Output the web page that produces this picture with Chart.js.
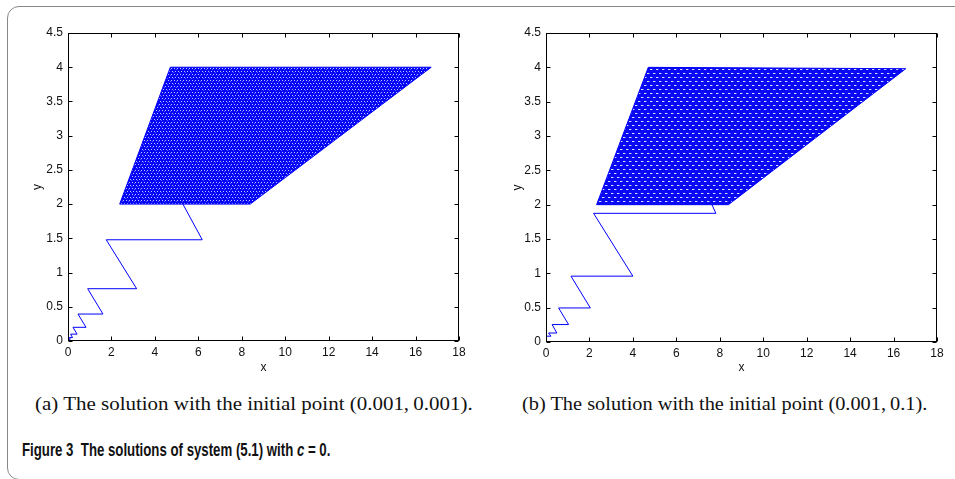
<!DOCTYPE html>
<html>
<head>
<meta charset="utf-8">
<script src="https://cdn.jsdelivr.net/npm/chart.js@4"></script>
<style>
  html, body { margin: 0; padding: 0; background: #fff; }
  body { width: 955px; height: 479px; position: relative; overflow: hidden; }
  .frame { position: absolute; left: 7px; top: 6px; width: 980px; height: 474px;
           border: 1.5px solid #888; border-radius: 12px; box-sizing: border-box; }
  canvas { position: absolute; }
  .sub { position: absolute; top: 394px; font-family: "Liberation Serif", serif; font-size: 18px; color: #111;
         white-space: nowrap; transform-origin: 0 50%; }
  .fig { position: absolute; left: 22px; top: 440px; font-family: "Liberation Sans", sans-serif;
         font-weight: bold; font-size: 18px; color: #111; white-space: nowrap;
         transform: scaleX(0.735); transform-origin: 0 50%; }
</style>
</head>
<body>
<div class="frame"></div>
<canvas id="chartA" width="450" height="360" style="left:20px;top:20px"></canvas>
<canvas id="chartB" width="450" height="360" style="left:500px;top:20px"></canvas>
<div class="sub" style="left:35px;transform:scaleX(1.165)">(a) The solution with the initial point (0.001,&thinsp;0.001).</div>
<div class="sub" style="left:522px;transform:scaleX(1.13)">(b) The solution with the initial point (0.001,&thinsp;0.1).</div>
<div class="fig">Figure 3&nbsp; The solutions of system (5.1) with <i>c</i> = 0.</div>
<script>
// axis ticks
const xTicks = [0, 2, 4, 6, 8, 10, 12, 14, 16, 18];
const yTicks = [0, 0.5, 1, 1.5, 2, 2.5, 3, 3.5, 4, 4.5];

// (a) path from the initial point (0.001, 0.001)
const pathAX = [0.001, 0.015, 0.05, 0.03, 0.105, 0.06, 0.21, 0.12, 0.42, 0.23, 0.83, 0.46, 1.61, 0.905, 3.16, 1.76, 6.18, 5.29];
const pathAY = [0.001, 0.0125, 0.0125, 0.025, 0.025, 0.05, 0.05, 0.1, 0.1, 0.2, 0.2, 0.394, 0.394, 0.764, 0.764, 1.479, 1.479, 2.0];
// (a) dense region corners
const meshAX = [2.38, 8.39, 16.72, 4.71, 2.38];
const meshAY = [2, 2, 4, 4, 2];

// (b) path from the initial point (0.001, 0.1)
const pathBX = [0.001, 0.23, 0.12, 0.5, 0.28, 1.04, 0.58, 2.04, 1.15, 4.0, 2.19, 7.82, 7.64];
const pathBY = [0.085, 0.085, 0.131, 0.131, 0.254, 0.254, 0.496, 0.496, 0.959, 0.959, 1.874, 1.874, 2.0];
// (b) dense region corners
const meshBX = [2.33, 8.4, 16.56, 4.71, 2.33];
const meshBY = [2, 2, 3.98, 4.0, 2];

const BLUE = '#0000ff';
const toPoints = (xs, ys) => xs.map((x, i) => ({ x, y: ys[i] }));

// texture that looks like the tightly woven trajectory
function meshPattern(kind) {
    const tile = document.createElement('canvas');
    const t = tile.getContext('2d');
    if (kind === 'a') {
        tile.width = 6; tile.height = 6;
        t.fillStyle = '#0606f6';
        t.fillRect(0, 0, 6, 6);
        t.fillStyle = 'rgba(215,215,255,0.9)';
        t.fillRect(1, 0, 1, 1); t.fillRect(4, 0, 1, 1);
        t.fillRect(2, 3, 1, 1); t.fillRect(5, 3, 1, 1);
        t.fillStyle = 'rgba(110,110,255,0.8)';
        t.fillRect(0, 1, 1, 1); t.fillRect(3, 4, 1, 1);
    } else {
        tile.width = 6; tile.height = 8;
        t.fillStyle = '#0a0af2';
        t.fillRect(0, 0, 6, 8);
        t.fillStyle = 'rgba(235,235,255,0.95)';
        t.fillRect(0, 1, 2, 1); t.fillRect(3, 5, 2, 1);
        t.fillStyle = 'rgba(110,110,255,0.8)';
        t.fillRect(2, 1, 1, 1); t.fillRect(5, 5, 1, 1);
    }
    return t.createPattern(tile, 'repeat');
}

// MATLAB style box with inward ticks on all four sides
const boxTicks = {
    id: 'boxTicks',
    afterDraw(chart) {
        const { ctx, chartArea: a, scales: { x, y } } = chart;
        const L = Math.round(a.left) + 0.5, R = Math.round(a.right) - 0.5;
        const T = Math.round(a.top) + 0.5, B = Math.round(a.bottom) - 0.5;
        ctx.save();
        ctx.strokeStyle = '#000';
        ctx.lineWidth = 1;
        ctx.strokeRect(L, T, R - L, B - T);
        ctx.beginPath();
        xTicks.forEach(v => {
            const px = Math.round(x.getPixelForValue(v)) + 0.5;
            ctx.moveTo(px, B); ctx.lineTo(px, B - 4);
            ctx.moveTo(px, T); ctx.lineTo(px, T + 4);
        });
        yTicks.forEach(v => {
            const py = Math.round(y.getPixelForValue(v)) + 0.5;
            ctx.moveTo(L, py); ctx.lineTo(L + 4, py);
            ctx.moveTo(R, py); ctx.lineTo(R - 4, py);
        });
        ctx.stroke();
        ctx.restore();
    }
};

function makeChart(id, path, mesh, kind, dims) {
    const ctx = document.getElementById(id).getContext('2d');
    const tickFont = { family: 'Liberation Sans', size: 12 };
    return new Chart(ctx, {
        type: 'scatter',
        data: {
            datasets: [
                {
                    data: mesh,
                    showLine: true,
                    fill: 'shape',
                    backgroundColor: meshPattern(kind),
                    borderColor: BLUE,
                    borderWidth: 1,
                    pointRadius: 0,
                    tension: 0
                },
                {
                    data: path,
                    showLine: true,
                    fill: false,
                    borderColor: BLUE,
                    borderWidth: 1,
                    pointRadius: 0,
                    tension: 0
                }
            ]
        },
        options: {
            responsive: false,
            animation: false,
            events: [],
            layout: { padding: { left: 0, right: dims.right, top: 13, bottom: 0 } },
            plugins: { legend: { display: false }, tooltip: { enabled: false } },
            scales: {
                x: {
                    type: 'linear', min: 0, max: 18,
                    afterBuildTicks: s => { s.ticks = xTicks.map(v => ({ value: v })); },
                    ticks: { color: '#111', font: tickFont, padding: 4, maxRotation: 0, autoSkip: false,
                             callback: v => String(v) },
                    grid: { display: false, drawTicks: false },
                    border: { display: false },
                    title: { display: true, text: 'x', color: '#111', font: tickFont, padding: { top: 0, bottom: 5 } },
                    afterFit: s => { s.height = dims.xh; }
                },
                y: {
                    type: 'linear', min: 0, max: 4.5,
                    afterBuildTicks: s => { s.ticks = yTicks.map(v => ({ value: v })); },
                    ticks: { color: '#111', font: tickFont, padding: 5, autoSkip: false,
                             callback: v => String(v) },
                    grid: { display: false, drawTicks: false },
                    border: { display: false },
                    title: { display: true, text: 'y', color: '#111', font: tickFont, padding: { top: 10, bottom: 0 } },
                    afterFit: s => { s.width = dims.yw; }
                }
            }
        },
        plugins: [boxTicks]
    });
}

makeChart('chartA', toPoints(pathAX, pathAY), toPoints(meshAX, meshAY), 'a', { right: 11, xh: 39, yw: 48 });
makeChart('chartB', toPoints(pathBX, pathBY), toPoints(meshBX, meshBY), 'b', { right: 13, xh: 38, yw: 46 });
</script>
</body>
</html>
